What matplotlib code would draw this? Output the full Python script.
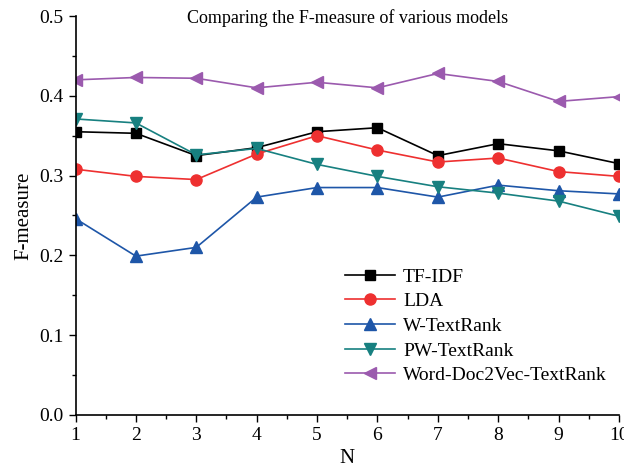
import matplotlib
matplotlib.use("Agg")
import matplotlib.pyplot as plt
from matplotlib.ticker import MultipleLocator

plt.rcParams['font.family'] = ['Liberation Serif', 'DejaVu Serif']

# Datos
N = [1, 2, 3, 4, 5, 6, 7, 8, 9, 10]
tfidf = [0.355, 0.353, 0.325, 0.335, 0.355, 0.360, 0.325, 0.340, 0.331, 0.315]
lda = [0.308, 0.299, 0.295, 0.327, 0.350, 0.332, 0.317, 0.322, 0.305, 0.299]
w_textrank = [0.246, 0.199, 0.210, 0.273, 0.285, 0.285, 0.273, 0.288, 0.281, 0.277]
pw_textrank = [0.371, 0.366, 0.326, 0.334, 0.314, 0.299, 0.286, 0.278, 0.268, 0.249]
wd2v_textrank = [0.420, 0.423, 0.422, 0.410, 0.417, 0.410, 0.428, 0.418, 0.393, 0.399]

fig = plt.figure(figsize=(6.24, 4.72), dpi=100)
ax = fig.add_axes([0.121, 0.121, 0.871, 0.845])

ax.plot(N, tfidf, '-s', color='black', lw=1.2, ms=7, label='TF-IDF')
ax.plot(N, lda, '-o', color='#EE3030', lw=1.2, ms=8, label='LDA')
ax.plot(N, w_textrank, '-^', color='#1E56A8', lw=1.2, ms=9, label='W-TextRank')
ax.plot(N, pw_textrank, '-v', color='#178080', lw=1.2, ms=9, label='PW-TextRank')
ax.plot(N, wd2v_textrank, '-<', color='#9B5AAE', lw=1.2, ms=9, label='Word-Doc2Vec-TextRank')

ax.set_xlim(1, 10)
ax.set_ylim(0, 0.5)
ax.xaxis.set_major_locator(MultipleLocator(1))
ax.xaxis.set_minor_locator(MultipleLocator(0.5))
ax.yaxis.set_major_locator(MultipleLocator(0.1))
ax.yaxis.set_minor_locator(MultipleLocator(0.05))
ax.set_yticklabels(['%.1f' % v for v in ax.get_yticks()])
ax.tick_params(which='major', direction='out', length=5, width=1, labelsize=14)
ax.tick_params(which='minor', direction='out', length=3, width=1)
ax.spines['top'].set_visible(False)
ax.spines['right'].set_visible(False)
ax.spines['left'].set_linewidth(1.2)
ax.spines['bottom'].set_linewidth(1.2)

ax.set_xlabel('N', fontsize=15)
ax.set_ylabel('F-measure', fontsize=15)
ax.text(0.5, 0.995, 'Comparing the F-measure of various models', transform=ax.transAxes,
        ha='center', va='center', fontsize=13)

ax.legend(loc='lower left', bbox_to_anchor=(0.47, 0.043), frameon=False, fontsize=14,
          handlelength=2.6, labelspacing=0.36, handletextpad=0.4, borderpad=0.2)

plt.savefig('out.png', dpi=100)
